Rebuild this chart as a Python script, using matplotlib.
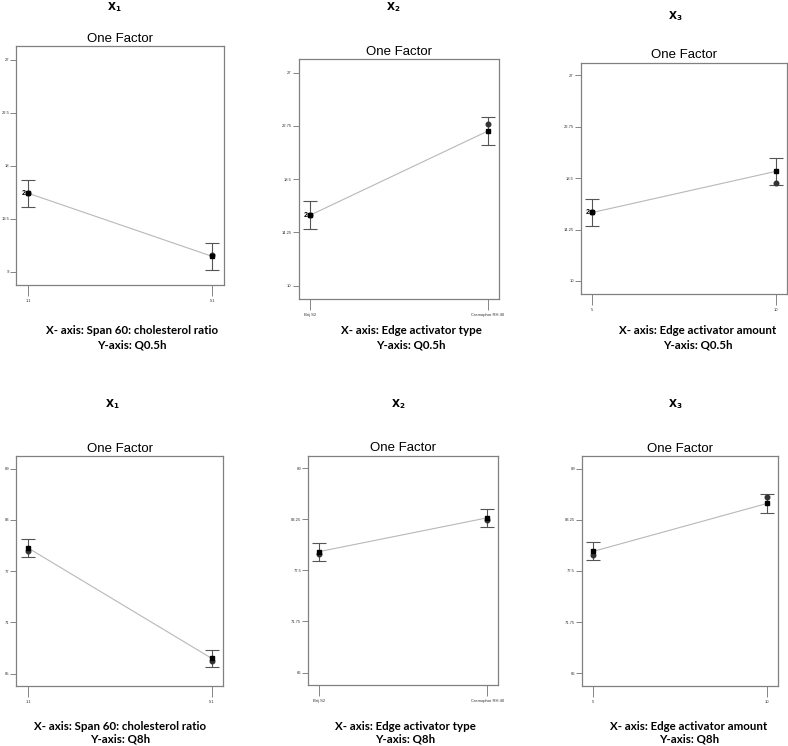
import matplotlib
matplotlib.use('Agg')
import matplotlib.pyplot as plt

# factor levels (x) for each column
levels_x1 = ['1:1', '5:1']
levels_x2 = ['Brij S2', 'Cremophor RH 40']
levels_x3 = ['5', '10']

# y ticks
yticks_q05_x1 = [9, 13.5, 18, 22.5, 27]
yticks_q05 = [10, 14.25, 18.5, 22.75, 27]
yticks_q8_x1 = [65, 71, 77, 83, 89]
yticks_q8 = [66, 71.75, 77.5, 83.25, 89]

# predicted means (squares), LSD half widths, design points (circles)
q05_x1_pred = [15.66, 10.30]
q05_x1_err = [1.15, 1.12]
q05_x1_pts = [15.66, 10.40]
q05_x2_pred = [15.62, 22.33]
q05_x2_err = [1.12, 1.12]
q05_x2_pts = [15.62, 22.89]
q05_x3_pred = [15.66, 19.06]
q05_x3_err = [1.12, 1.12]
q05_x3_pts = [15.66, 18.11]

q8_x1_pred = [79.70, 66.78]
q8_x1_err = [1.06, 1.03]
q8_x1_pts = [79.40, 66.50]
q8_x2_pred = [79.62, 83.43]
q8_x2_err = [1.02, 1.03]
q8_x2_pts = [79.40, 83.20]
q8_x3_pred = [79.69, 85.08]
q8_x3_pts = [79.30, 85.84]
q8_x3_err = [1.00, 1.03]

# number of runs sitting on the same spot (label "2")
q05_counts = [2, 1]
q8_counts = [1, 1]

panels = [
    # axes rect, factor, levels, yticks, pred, err, pts, counts, x caption, y caption, label x/y, caption x
    ([0.0207, 0.618, 0.2636, 0.320], 1, levels_x1, yticks_q05_x1, q05_x1_pred, q05_x1_err, q05_x1_pts, q05_counts,
     'Span 60: cholesterol ratio', 'Q0.5h', 114, 7, 132),
    ([0.379, 0.5992, 0.2542, 0.3213], 2, levels_x2, yticks_q05, q05_x2_pred, q05_x2_err, q05_x2_pts, q05_counts,
     'Edge activator type', 'Q0.5h', 393, 7, 411),
    ([0.7369, 0.6063, 0.2622, 0.3097], 3, levels_x3, yticks_q05, q05_x3_pred, q05_x3_err, q05_x3_pts, q05_counts,
     'Edge activator amount', 'Q0.5h', 675, 16, 698),
    ([0.0207, 0.080, 0.2627, 0.3091], 1, levels_x1, yticks_q8_x1, q8_x1_pred, q8_x1_err, q8_x1_pts, q8_counts,
     'Span 60: cholesterol ratio', 'Q8h', 112, 404, 120),
    ([0.3912, 0.0814, 0.2407, 0.3078], 2, levels_x2, yticks_q8, q8_x2_pred, q8_x2_err, q8_x2_pts, q8_counts,
     'Edge activator type', 'Q8h', 398, 404, 405),
    ([0.7386, 0.0804, 0.2491, 0.3087], 3, levels_x3, yticks_q8, q8_x3_pred, q8_x3_err, q8_x3_pts, q8_counts,
     'Edge activator amount', 'Q8h', 675, 404, 689),
]

W, H = 788, 746
fig = plt.figure(figsize=(W / 100, H / 100), dpi=100)
fig.patch.set_facecolor('white')

for rect, fac, levels, yt, pred, err, pts, counts, xcap, ycap, lx, ly, cx in panels:
    ax = fig.add_axes(rect)
    x = list(range(len(levels)))

    ax.plot(x, pred, color='#b8b8b8', lw=0.8, zorder=1)
    ax.errorbar(x, pred, yerr=err, fmt='none', ecolor='#555555', elinewidth=0.8,
                capsize=5, capthick=0.8, zorder=2)
    ax.plot(x, pts, 'o', color='#333333', ms=3.3, zorder=3)
    ax.plot(x, pred, 's', color='black', ms=3.5, zorder=4)
    for xi, yi, c in zip(x, pts, counts):
        if c > 1:
            ax.text(xi - 0.012, yi, str(c), fontsize=5, fontweight='bold',
                    ha='right', va='center', zorder=5, family='Liberation Sans')

    step = yt[1] - yt[0]
    ax.set_ylim(yt[0] - 0.25 * step, yt[-1] + 0.25 * step)
    ax.set_xlim(-0.064, 1.064)
    ax.set_yticks(yt)
    ax.set_yticklabels([f'{v:g}' for v in yt])
    ax.set_xticks(x)
    ax.set_xticklabels(levels)
    ax.tick_params(axis='y', direction='out', length=4, width=0.5, colors='#555555',
                   labelsize=3, pad=1)
    ax.tick_params(axis='x', direction='out', length=8, width=0.5, colors='#555555',
                   labelsize=3, pad=2)
    for lab in ax.get_xticklabels() + ax.get_yticklabels():
        lab.set_family('Liberation Sans')
        lab.set_color('#333333')
    for sp in ax.spines.values():
        sp.set_color('#808080')
        sp.set_linewidth(0.9)

    ax.set_title('One Factor', fontsize=9.5, family='Liberation Sans', pad=3)

    fig.text(lx / W, 1 - ly / H, r'$\mathbf{X}_{\mathbf{%d}}$' % fac, fontsize=7.5,
             ha='center', va='center')
    fig.text(cx / W, 1 - 331 / H if ycap == 'Q0.5h' else 1 - 726 / H,
             'X- axis: ' + xcap, fontsize=8.3, fontweight='bold', family='Lato',
             ha='center', va='center')
    fig.text(cx / W, 1 - 345 / H if ycap == 'Q0.5h' else 1 - 739 / H,
             'Y-axis: ' + ycap, fontsize=8.3, fontweight='bold', family='Lato',
             ha='center', va='center')

fig.savefig('out.png', dpi=100, facecolor='white')
